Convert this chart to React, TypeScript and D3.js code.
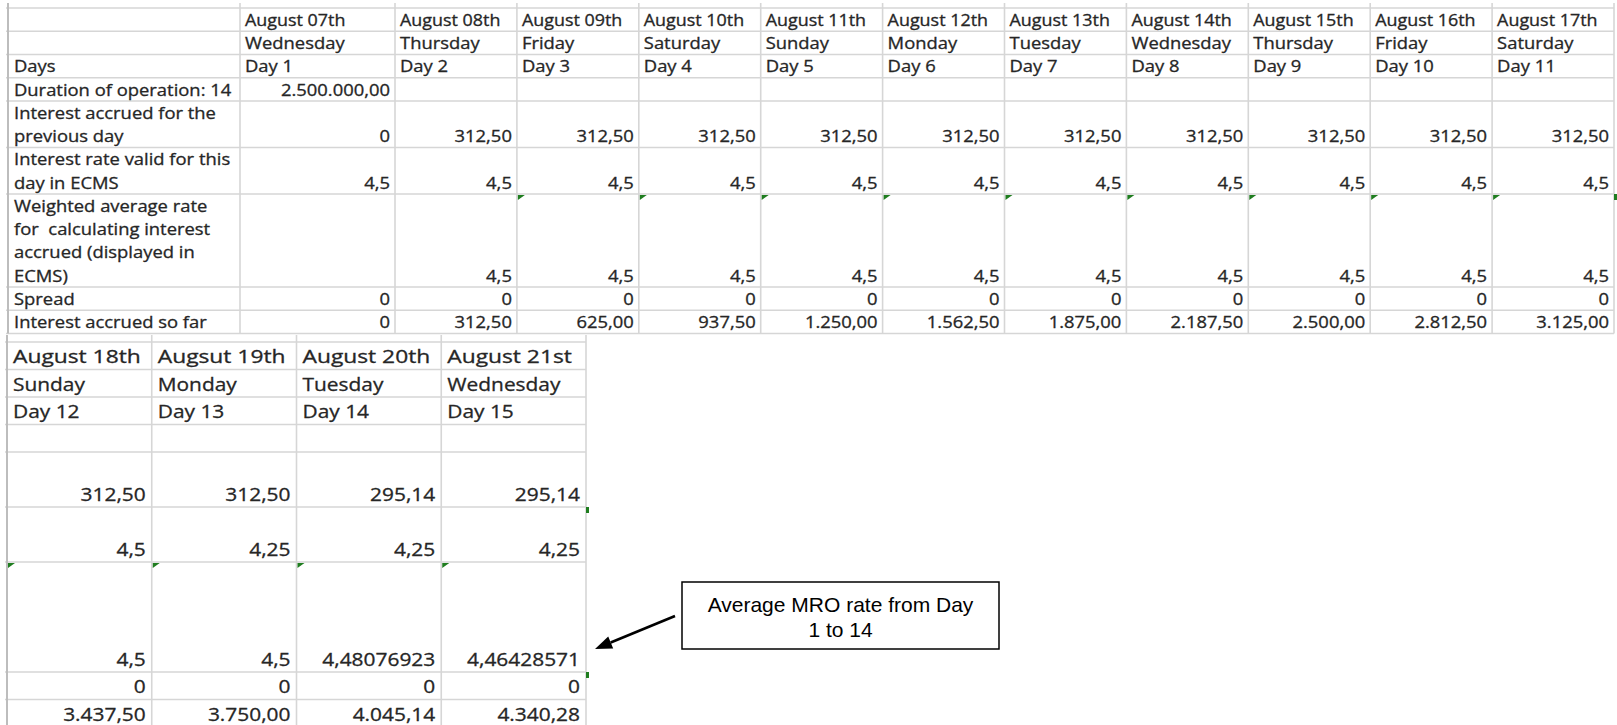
import React from "react";
import * as d3 from "d3";

// ---------- DATA ----------
const topDates = ["August 07th", "August 08th", "August 09th", "August 10th", "August 11th", "August 12th", "August 13th", "August 14th", "August 15th", "August 16th", "August 17th"];
const topWeekdays = ["Wednesday", "Thursday", "Friday", "Saturday", "Sunday", "Monday", "Tuesday", "Wednesday", "Thursday", "Friday", "Saturday"];
const topDays = ["Day 1", "Day 2", "Day 3", "Day 4", "Day 5", "Day 6", "Day 7", "Day 8", "Day 9", "Day 10", "Day 11"];
const topDuration = ["2.500.000,00", "", "", "", "", "", "", "", "", "", ""];
const topInterestPrev = ["0", "312,50", "312,50", "312,50", "312,50", "312,50", "312,50", "312,50", "312,50", "312,50", "312,50"];
const topRateValid = ["4,5", "4,5", "4,5", "4,5", "4,5", "4,5", "4,5", "4,5", "4,5", "4,5", "4,5"];
const topWeighted = ["", "4,5", "4,5", "4,5", "4,5", "4,5", "4,5", "4,5", "4,5", "4,5", "4,5"];
const topSpread = ["0", "0", "0", "0", "0", "0", "0", "0", "0", "0", "0"];
const topAccrued = ["0", "312,50", "625,00", "937,50", "1.250,00", "1.562,50", "1.875,00", "2.187,50", "2.500,00", "2.812,50", "3.125,00"];

const bottomDates = ["August 18th", "Augsut 19th", "August 20th", "August 21st"];
const bottomWeekdays = ["Sunday", "Monday", "Tuesday", "Wednesday"];
const bottomDays = ["Day 12", "Day 13", "Day 14", "Day 15"];
const bottomDuration = ["", "", "", ""];
const bottomInterestPrev = ["312,50", "312,50", "295,14", "295,14"];
const bottomRateValid = ["4,5", "4,25", "4,25", "4,25"];
const bottomWeighted = ["4,5", "4,5", "4,48076923", "4,46428571"];
const bottomSpread = ["0", "0", "0", "0"];
const bottomAccrued = ["3.437,50", "3.750,00", "4.045,14", "4.340,28"];

const rowLabels: string[][] = [
  [""],
  [""],
  ["Days"],
  ["Duration of operation: 14"],
  ["Interest accrued for the", "previous day"],
  ["Interest rate valid for this", "day in ECMS"],
  ["Weighted average rate", "for  calculating interest", "accrued (displayed in", "ECMS)"],
  ["Spread"],
  ["Interest accrued so far"],
];
const annotationLines = ["Average MRO rate from Day", "1 to 14"];

// row kinds: header rows are left aligned, value rows right aligned
const rowAlign = ["start", "start", "start", "end", "end", "end", "end", "end", "end"];
const rowLineCount = [1, 1, 1, 1, 2, 2, 4, 1, 1];

const topRows = [topDates, topWeekdays, topDays, topDuration, topInterestPrev, topRateValid, topWeighted, topSpread, topAccrued];
const bottomRows = [bottomDates, bottomWeekdays, bottomDays, bottomDuration, bottomInterestPrev, bottomRateValid, bottomWeighted, bottomSpread, bottomAccrued];

// green error indicators (column index within each table)
const topIndicators = [2, 3, 4, 5, 6, 7, 8, 9, 10];
const bottomIndicators = [0, 1, 2, 3];

const W = 1617;
const H = 725;
const GRID = "#d6d6d6";
const TEXT = "#262626";
const GREEN = "#1f7d1f";
const FONT = "'Open Sans', 'Noto Sans', sans-serif";

function rowEdges(y0: number, y1: number) {
  const cum = [0];
  rowLineCount.forEach((c) => cum.push(cum[cum.length - 1] + c));
  const y = d3.scaleLinear().domain([0, cum[cum.length - 1]]).range([y0, y1]);
  return { edges: cum.map((c) => y(c)), unit: y(1) - y(0) };
}

type TableProps = {
  rows: string[][];
  colEdges: number[];
  labelEdges: [number, number] | null;
  y0: number;
  y1: number;
  fontSize: number;
  sx: number;
  headerSx: number;
  pad: number;
  baseOff: number;
  indicators: number[];
  extendTop: number;
};

function Table(p: TableProps) {
  const { edges, unit } = rowEdges(p.y0, p.y1);
  const left = p.labelEdges ? p.labelEdges[0] : p.colEdges[0];
  const right = p.colEdges[p.colEdges.length - 1];
  const allX = p.labelEdges ? [p.labelEdges[0], ...p.colEdges] : p.colEdges;
  const txt = (x: number, y: number, s: string, anchor: string, key: string, sx: number) => (
    <text
      key={key}
      transform={`translate(${x},${y}) scale(${sx},1)`}
      textAnchor={anchor}
      fontFamily={FONT}
      fontSize={p.fontSize}
      fill={TEXT}
      stroke={TEXT}
      strokeWidth={0.3}
      style={{ whiteSpace: "pre" }}
    >
      {s}
    </text>
  );
  const nodes: React.ReactNode[] = [];
  edges.forEach((y, i) =>
    nodes.push(<line key={`h${i}`} x1={left - 2} x2={right} y1={y} y2={y} stroke={GRID} strokeWidth={1.6} />)
  );
  allX.forEach((x, i) =>
    nodes.push(
      <line
        key={`v${i}`}
        x1={x}
        x2={x}
        y1={p.y0 - p.extendTop}
        y2={Math.min(p.y1, H)}
        stroke={i === 0 ? "#bdbdbd" : GRID}
        strokeWidth={i === 0 ? 2 : 1.6}
      />
    )
  );
  if (p.labelEdges) {
    rowLabels.forEach((lines, r) =>
      lines.forEach((s, li) => {
        if (!s) return;
        nodes.push(txt(p.labelEdges![0] + p.pad + 1, edges[r] + (li + 1) * unit - p.baseOff, s, "start", `l${r}-${li}`, p.sx));
      })
    );
  }
  p.rows.forEach((vals, r) =>
    vals.forEach((s, c) => {
      if (!s) return;
      const x0 = p.colEdges[c];
      const x1 = p.colEdges[c + 1];
      const anchor = rowAlign[r];
      const x = anchor === "start" ? x0 + p.pad : x1 - p.pad;
      const sx = r === 0 ? p.headerSx : p.sx;
      nodes.push(txt(x, edges[r + 1] - p.baseOff, s, anchor, `c${r}-${c}`, sx));
    })
  );
  p.indicators.forEach((c) => {
    const x = p.colEdges[c] + 1;
    const y = edges[6] + 1;
    nodes.push(<polygon key={`g${c}`} points={`${x},${y} ${x + 7},${y} ${x},${y + 5}`} fill={GREEN} />);
  });
  return <g>{nodes}</g>;
}

export default function App() {
  const topWidths = [155, ...d3.range(10).map(() => 121.9)];
  const topStart = 240;
  const topCols = [topStart];
  topWidths.forEach((w) => topCols.push(topCols[topCols.length - 1] + w));

  const bx = d3.scaleLinear().domain([0, bottomDates.length]).range([7, 586]);
  const bottomCols = d3.range(bottomDates.length + 1).map((i) => bx(i));

  const box = { x0: 682, y0: 582, x1: 999, y1: 649 };
  const start: [number, number] = [675, 616];
  const tip: [number, number] = [595, 649];
  const dx = tip[0] - start[0];
  const dy = tip[1] - start[1];
  const len = Math.hypot(dx, dy);
  const ux = dx / len;
  const uy = dy / len;
  const headLen = 17;
  const headHalf = 6.5;
  const bxc = tip[0] - ux * headLen;
  const byc = tip[1] - uy * headLen;
  const nx = -uy;
  const ny = ux;

  return (
    <svg
      width={W}
      height={H}
      style={{ position: "absolute", left: 0, top: 0, display: "block", background: "#fff" }}
    >
      <rect x={0} y={0} width={W} height={H} fill="#fff" />
      <Table
        rows={topRows}
        colEdges={topCols}
        labelEdges={[8, topStart]}
        y0={8}
        y1={333.5}
        fontSize={16}
        sx={1.15}
        headerSx={1.12}
        pad={5}
        baseOff={5.5}
        indicators={topIndicators}
        extendTop={5}
      />
      <rect x={topCols[topCols.length - 1]} y={194} width={3} height={6} fill={GREEN} />
      <Table
        rows={bottomRows}
        colEdges={bottomCols}
        labelEdges={null}
        y0={342}
        y1={727}
        fontSize={19}
        sx={1.1}
        headerSx={1.2}
        pad={6}
        baseOff={6.5}
        indicators={bottomIndicators}
        extendTop={7}
      />
      <rect x={586} y={507} width={3} height={6} fill={GREEN} />
      <rect x={586} y={672} width={3} height={6} fill={GREEN} />

      <line x1={start[0]} y1={start[1]} x2={bxc} y2={byc} stroke="#000" strokeWidth={2.6} />
      <polygon
        points={`${tip[0]},${tip[1]} ${bxc + nx * headHalf},${byc + ny * headHalf} ${bxc - nx * headHalf},${byc - ny * headHalf}`}
        fill="#000"
      />
      <rect
        x={box.x0}
        y={box.y0}
        width={box.x1 - box.x0}
        height={box.y1 - box.y0}
        fill="#fff"
        stroke="#000"
        strokeWidth={1.5}
      />
      {annotationLines.map((s, i) => (
        <text
          key={i}
          x={(box.x0 + box.x1) / 2}
          y={612 + i * 25}
          textAnchor="middle"
          fontFamily="'Liberation Sans', Arial, sans-serif"
          fontSize={21}
          fill="#000"
        >
          {s}
        </text>
      ))}
    </svg>
  );
}
